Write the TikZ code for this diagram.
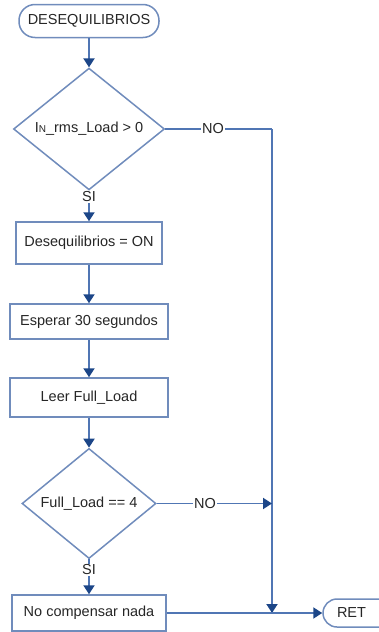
\documentclass[tikz,border=0pt]{standalone}
\usepackage{fontspec}
\setmainfont{Liberation Sans}
\usetikzlibrary{shapes.geometric,arrows.meta}

\definecolor{shapeline}{RGB}{112,140,188}
\definecolor{linkline}{RGB}{80,118,180}
\definecolor{tipcol}{RGB}{28,70,136}

\tikzset{
  px/.style={x=1pt,y=-1pt},
  base/.style={draw=shapeline,line width=1.5pt,fill=white,inner sep=0pt,
               font=\fontsize{14.5}{16}\selectfont,text=black!85},
  terminal/.style={base,rectangle,rounded corners=16pt},
  procbox/.style={base,rectangle},
  decision/.style={base,diamond},
  link/.style={draw=linkline,line width=1.9pt},
  arr/.style={link,-{Triangle[width=11pt,length=9pt,color=tipcol]}},
  lbl/.style={fill=white,inner sep=1pt,font=\fontsize{14.5}{16}\selectfont,text=black!85}
}

\begin{document}
\begin{tikzpicture}[px]
  \useasboundingbox (0,0) rectangle (379,632);

  % flow shapes
  \node[terminal,minimum width=140pt,minimum height=33pt] (start) at (89,21) {DESEQUILIBRIOS};
  \node[decision,minimum width=151pt,minimum height=100pt] (d1) at (89,129)
       {I{\fontsize{10}{10}\selectfont N}\_rms\_Load > 0};
  \node[procbox,minimum width=146pt,minimum height=42pt] (b1) at (89,243) {Desequilibrios = ON};
  \node[procbox,minimum width=158pt,minimum height=35pt] (b2) at (89,321.5) {Esperar 30 segundos};
  \node[procbox,minimum width=158pt,minimum height=39pt] (b3) at (89,397.5) {Leer Full\_Load};
  \node[decision,minimum width=134pt,minimum height=91pt] (d2) at (89,503.5) {Full\_Load == 4};
  \node[procbox,minimum width=154pt,minimum height=36pt] (b4) at (89,613) {No compensar nada};
  \node[terminal,rounded corners=14pt,minimum width=80pt,minimum height=28pt,
        text width=60pt,align=left] (ret) at (363,613) {\hspace{4pt}RET};

  % junction points on the right-hand bus
  \coordinate (j1) at (272,129);
  \coordinate (j2) at (272,503.5);
  \coordinate (j3) at (272,613);

  % connectors
  \draw[arr] (start.south) -- (d1.north);
  \draw[link] (d1.east) -- (j1);
  \node[lbl] (no1) at (213,129) {NO};
  \draw[arr] (j1) -- (j3);
  \draw[arr] (d1.south) -- (b1.north);
  \node[lbl] (si1) at (89,197) {SI};
  \draw[arr] (b1.south) -- (b2.north);
  \draw[arr] (b2.south) -- (b3.north);
  \draw[arr] (b3.south) -- (d2.north);
  \draw[arr] (d2.east) -- (j2);
  \node[lbl] (no2) at (205,503.5) {NO};
  \draw[arr] (d2.south) -- (b4.north);
  \node[lbl] (si2) at (89,570) {SI};
  \draw[arr] (b4.east) -- (ret.west);
\end{tikzpicture}
\end{document}
